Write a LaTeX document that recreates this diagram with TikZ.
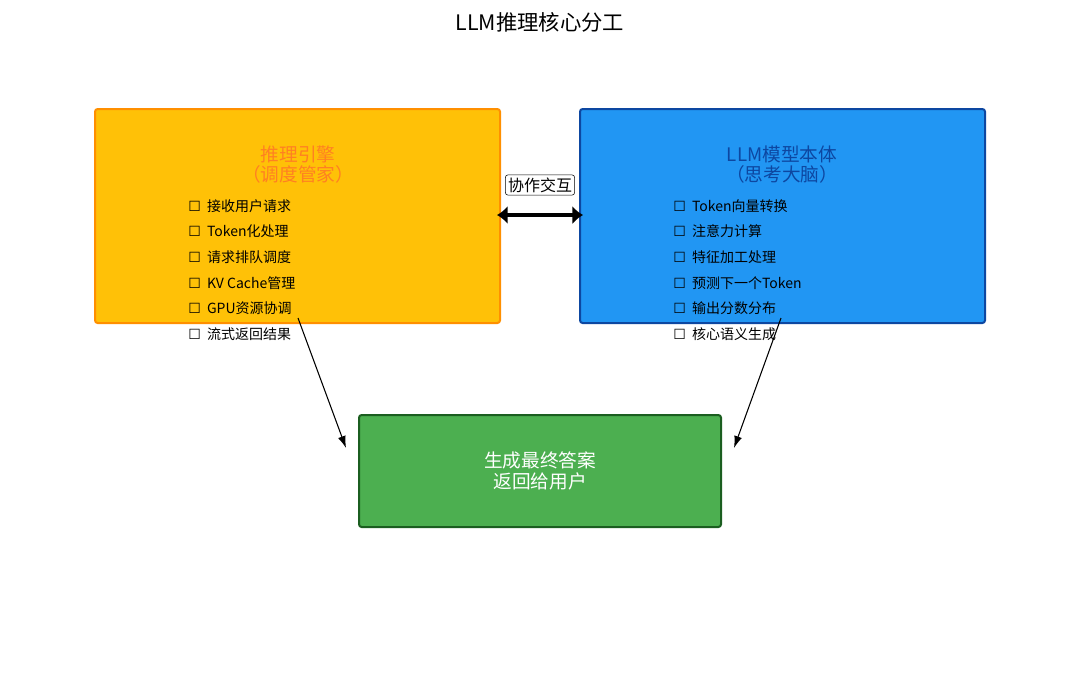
\documentclass[tikz,border=0pt]{standalone}
\usepackage{fontspec}
\setmainfont{Noto Sans CJK SC}
\newfontfamily\symfont{DejaVu Sans}
\usetikzlibrary{arrows.meta}
\definecolor{engfill}{HTML}{FFC107}
\definecolor{engline}{HTML}{FF8F00}
\definecolor{engtext}{HTML}{FF8022}
\definecolor{llmfill}{HTML}{2196F3}
\definecolor{llmline}{HTML}{0D47A1}
\definecolor{outfill}{HTML}{4CAF50}
\definecolor{outline}{HTML}{1B5E20}
\newcommand{\chk}{{\symfont\char"2610}\ \ }

\tikzset{
  panel/.style={rounded corners=2pt,line width=1.5pt},
  item/.style={anchor=west,font=\fontsize{10.5}{12}\selectfont,inner sep=0pt},
  head/.style={align=center,font=\fontsize{14}{15}\selectfont},
  link/.style={-{Latex[length=9pt,width=6pt]},line width=0.8pt}
}

\begin{document}
\begin{tikzpicture}[x=0.75pt,y=-0.75pt]
  \useasboundingbox (0,0) rectangle (1080,687);

  \node[font=\fontsize{16}{18}\selectfont] (title) at (540,22) {LLM推理核心分工};

  \draw[panel,fill=engfill,draw=engline] (95,109) rectangle (500,323);
  \draw[panel,fill=llmfill,draw=llmline] (580,109) rectangle (985,323);
  \draw[panel,fill=outfill,draw=outline] (359,415) rectangle (721,527);

  \node[head,text=engtext] (engine) at (298,165) {推理引擎\\（调度管家）};
  \node[head,text=llmline] (model) at (782,165) {LLM模型本体\\（思考大脑）};
  \node[head,text=white,font=\fontsize{14}{16}\selectfont] (answer) at (540,471) {生成最终答案\\返回给用户};

  % list of tasks
  \foreach \t [count=\i] in {接收用户请求,Token化处理,请求排队调度,KV Cache管理,GPU资源协调,流式返回结果}
    \node[item] (e\i) at (188,{206+25.6*(\i-1)}) {\chk\t};
  \foreach \t [count=\i] in {Token向量转换,注意力计算,特征加工处理,预测下一个Token,输出分数分布,核心语义生成}
    \node[item] (m\i) at (673,{206+25.6*(\i-1)}) {\chk\t};

  \coordinate (la) at (497,215);
  \coordinate (ra) at (583,215);
  \draw[{Latex[length=8pt,width=14pt]}-{Latex[length=8pt,width=14pt]},line width=2.5pt] (la) -- (ra);
  \node[draw,fill=white,rounded corners=2pt,inner sep=2pt,font=\fontsize{12}{14}\selectfont] (coop) at (540,185) {协作交互};

  \coordinate (ls) at (298,318);
  \coordinate (le) at (346,448);
  \coordinate (rs) at (781,318);
  \coordinate (re) at (734,448);
  \draw[link] (ls) -- (le);
  \draw[link] (rs) -- (re);
\end{tikzpicture}
\end{document}
